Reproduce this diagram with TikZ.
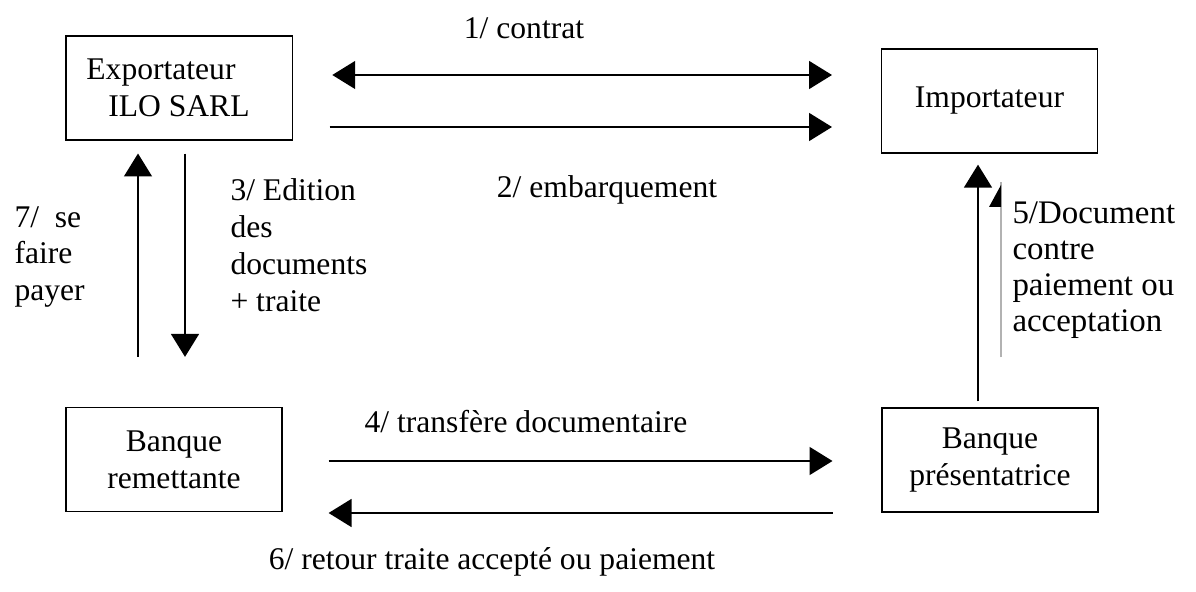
\documentclass[tikz,border=0pt]{standalone}
\usepackage{fontspec}
\setmainfont{Liberation Serif}
\usetikzlibrary{arrows.meta}

\begin{document}
\begin{tikzpicture}[x=0.38pt, y=-0.38pt, every node/.style={font=\fontsize{12}{14}\selectfont},
  >={Triangle[length=8.7pt, width=10.6pt]},
  box/.style={draw, line width=0.5pt, minimum width=82pt, minimum height=39.5pt, align=center, inner sep=0pt},
  lbl/.style={inner sep=0pt, align=left},
  flow/.style={line width=0.6pt, ->},
  ghost/.style={gray!60, line width=0.4pt}]
  \useasboundingbox (0,0) rectangle (1196,592);
  \node[box, minimum width=86pt] (exp) at (179,88) {Exportateur\hspace*{13.7pt}\\ILO SARL};
  \node[box] (imp) at (989.5,101) {Importateur};
  \node[box] (rem) at (174,459.5) {Banque\\remettante};
  \node[box] (pres) at (990,460) {Banque\\présentatrice};

  \draw[flow, <->, shorten <=15pt, shorten >=18.6pt] (exp.east |- 0,75) -- (imp.west |- 0,75);
  \draw[flow, shorten <=14pt, shorten >=18.6pt] (exp.east |- 0,127) -- (imp.west |- 0,127);
  \draw[flow, shorten <=4.9pt, shorten >=19pt] (exp.south -| 185,0) -- (rem.north -| 185,0);
  \draw[flow, shorten <=19pt, shorten >=4.9pt] (rem.north -| 138,0) -- (exp.south -| 138,0);
  \draw[flow, shorten <=17.5pt, shorten >=18.6pt] (rem.east |- 0,461) -- (pres.west |- 0,461);
  \draw[flow, shorten <=18.6pt, shorten >=17.5pt] (pres.west |- 0,513) -- (rem.east |- 0,513);
  \draw[flow, shorten <=2.3pt, shorten >=4.2pt] (pres.north -| 978,0) -- (imp.south -| 978,0);
  \draw[ghost, shorten <=19pt, shorten >=10.6pt] (pres.north -| 1001,0) -- (imp.south -| 1001,0);
  \fill (1001,185) -- (1001,207) -- (989,207) -- cycle;

  \node[lbl] (contrat) at (524,28) {1/ contrat};
  \node[lbl] (embarq) at (607,190) {2/ embarquement};
  \node[lbl, anchor=west] (edition) at (230,245) {3/ Edition\\des\\documents\\+ traite};
  \node[lbl, anchor=west] (payer) at (14,257) {7/\ \ se\\faire\\payer};
  \node[lbl, anchor=west, font=\fontsize{12.5}{13.6}\selectfont] (docu) at (1012,270) {5/Document\\contre\\paiement ou\\acceptation};
  \node[lbl] (transfert) at (526,422) {4/ transfère documentaire};
  \node[lbl] (retour) at (492,562) {6/ retour traite accepté ou paiement};
\end{tikzpicture}
\end{document}
